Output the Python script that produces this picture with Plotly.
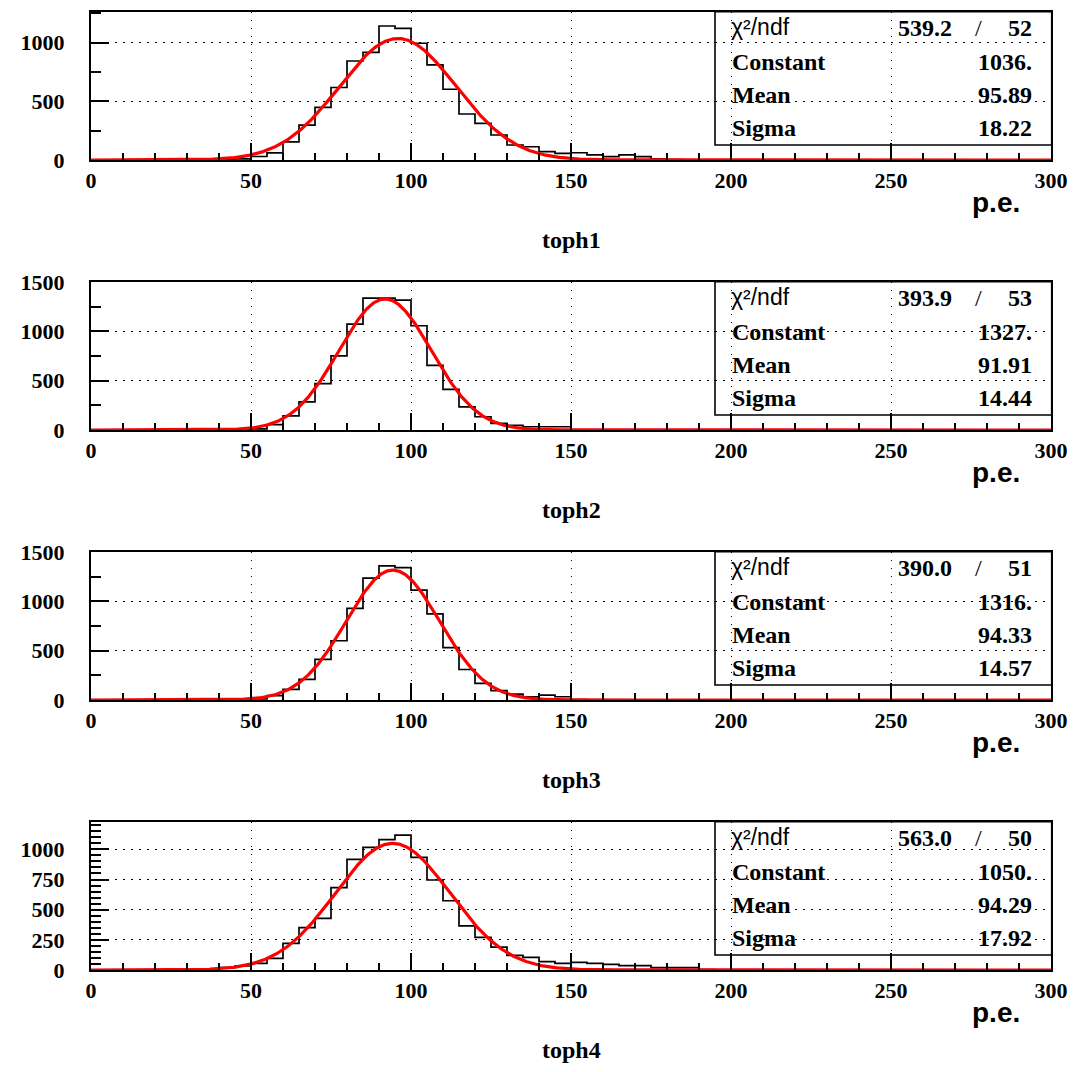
import numpy as np
import plotly.graph_objects as go

# page body has an 8px margin; size the figure so it fits inside the window
OFF = 8
W, H = 1065, 1056

# ---------------- data ----------------
bin_edges = list(range(0, 305, 5))  # 0..300, bin width 5

counts_toph1 = [0] * 8 + [3, 10, 30, 60, 155, 298, 449, 618, 844, 918,
                          1142, 1122, 995, 810, 603, 392, 313, 213, 128, 113,
                          71, 57, 62, 43, 28, 43, 28, 10, 4] + [0] * 23
counts_toph2 = [0] * 9 + [3, 12, 55, 144, 285, 470, 750, 1073, 1335, 1335,
                          1315, 1056, 654, 412, 235, 134, 67, 47, 33, 33,
                          33, 2, 2] + [0] * 28
counts_toph3 = [0] * 10 + [10, 45, 107, 208, 412, 600, 929, 1234, 1358, 1341,
                           1113, 872, 530, 309, 168, 94, 60, 33, 50, 33,
                           3] + [0] * 29
counts_toph4 = [0] * 6 + [5, 10, 20, 35, 55, 97, 221, 351, 428, 682,
                          917, 1016, 1080, 1118, 934, 746, 574, 365, 270, 190,
                          122, 105, 69, 55, 64, 55, 47, 36, 36, 19,
                          19, 19, 3] + [0] * 21

titles = ["toph1", "toph2", "toph3", "toph4"]
chi2_txt = ["539.2", "393.9", "390.0", "563.0"]
ndf_txt = ["52", "53", "51", "50"]
const_txt = ["1036.", "1327.", "1316.", "1050."]
mean_txt = ["95.89", "91.91", "94.33", "94.29"]
sigma_txt = ["18.22", "14.44", "14.57", "17.92"]
fit_const = [1036.0, 1327.0, 1316.0, 1050.0]
fit_mean = [95.89, 91.91, 94.33, 94.29]
fit_sigma = [18.22, 14.44, 14.57, 17.92]

x_ticks = [0, 50, 100, 150, 200, 250, 300]
y_top = [1264, 1502, 1502, 1229]
y_major = [500, 500, 500, 250]
y_minor = [250, 250, 250, 50]

all_counts = [counts_toph1, counts_toph2, counts_toph3, counts_toph4]

# ---------------- layout geometry (screen pixels) ----------------
X0, X1 = 91, 1051
PANEL_STEP = 270
TOP0, BOT0 = 11.7, 160.0


def px(x):
    return (x - OFF) / W


def py(y):
    return 1 - (y - OFF) / H


serif = "Liberation Serif"
sans = "Liberation Sans"

fig = go.Figure()
annotations = []
shapes = []
layout_axes = {}

for k in range(4):
    top = TOP0 + PANEL_STEP * k
    bot = BOT0 + PANEL_STEP * k
    xa = "x" if k == 0 else f"x{k+1}"
    ya = "y" if k == 0 else f"y{k+1}"
    xkey = "xaxis" if k == 0 else f"xaxis{k+1}"
    ykey = "yaxis" if k == 0 else f"yaxis{k+1}"

    counts = all_counts[k]
    hx = bin_edges
    hy = counts + [counts[-1]]
    fig.add_trace(go.Scatter(x=hx, y=hy, mode="lines", line_shape="hv",
                             line=dict(color="black", width=1.7),
                             xaxis=xa, yaxis=ya, showlegend=False, hoverinfo="skip"))

    fx = np.linspace(0, 300, 1201)
    fy = fit_const[k] * np.exp(-0.5 * ((fx - fit_mean[k]) / fit_sigma[k]) ** 2)
    fig.add_trace(go.Scatter(x=fx, y=fy, mode="lines",
                             line=dict(color="#ff0000", width=3.2),
                             xaxis=xa, yaxis=ya, showlegend=False, hoverinfo="skip"))

    layout_axes[xkey] = dict(
        domain=[px(X0), px(X1)], range=[0, 300], anchor=ya, automargin=False,
        tickvals=x_ticks, ticktext=[str(v) for v in x_ticks],
        ticks="inside", ticklen=17, tickwidth=1.6, tickcolor="black",
        minor=dict(dtick=10, tick0=0, ticks="inside", ticklen=7, tickwidth=1.6,
                   tickcolor="black", showgrid=False),
        showgrid=True, gridcolor="black", gridwidth=1.4, griddash="1.5px,6.5px",
        showline=True, linecolor="black", linewidth=2, mirror=True,
        zeroline=False, ticklabelstandoff=0,
        tickfont=dict(family=serif, size=22, color="black", weight="bold"),
        fixedrange=True,
    )
    layout_axes[ykey] = dict(
        domain=[py(bot), py(top)], range=[0, y_top[k]], anchor=xa, automargin=False,
        dtick=y_major[k], tick0=0,
        ticks="inside", ticklen=18, tickwidth=1.6, tickcolor="black",
        minor=dict(dtick=y_minor[k], tick0=0, ticks="inside", ticklen=10, tickwidth=1.6,
                   tickcolor="black", showgrid=False),
        showgrid=True, gridcolor="black", gridwidth=1.4, griddash="1.5px,6.5px",
        showline=True, linecolor="black", linewidth=2, mirror=True,
        zeroline=False, ticklabelstandoff=20,
        tickfont=dict(family=serif, size=22, color="black", weight="bold"),
        fixedrange=True,
    )

    # stats box
    bx0, bx1 = 715, 1051.7
    by0, by1 = top, top + 133.3
    shapes.append(dict(type="rect", xref="paper", yref="paper",
                       x0=px(bx0), x1=px(bx1), y0=py(by1), y1=py(by0),
                       line=dict(color="black", width=1.6), fillcolor="rgba(0,0,0,0)"))
    row_h = (by1 - by0) / 4
    rows_y = [by0 + row_h * (i + 0.5) for i in range(4)]

    def ann(text, x, y, xanchor, family=serif, size=24, weight="bold"):
        annotations.append(dict(text=text, x=px(x), y=py(y), xref="paper", yref="paper",
                                xanchor=xanchor, yanchor="middle", showarrow=False,
                                font=dict(family=family, size=size, color="black", weight=weight)))

    ann("χ²/ndf", 729, rows_y[0] - 1, "left", family=sans, size=23, weight="normal")
    ann(chi2_txt[k], 896, rows_y[0], "left")
    ann("/", 978, rows_y[0], "center", weight="normal")
    ann(ndf_txt[k], 1034, rows_y[0], "right")
    ann("Constant", 730, rows_y[1], "left")
    ann(const_txt[k], 1034, rows_y[1], "right")
    ann("Mean", 730, rows_y[2], "left")
    ann(mean_txt[k], 1034, rows_y[2], "right")
    ann("Sigma", 730, rows_y[3], "left")
    ann(sigma_txt[k], 1034, rows_y[3], "right")

    # axis title and histogram title
    ann("p.e.", 996, bot + 42, "center", family=sans, size=28, weight="bold")
    ann(titles[k], 571, bot + 80, "center", family=serif, size=24, weight="bold")

fig.update_layout(
    template="none",
    width=W, height=H,
    margin=dict(l=0, r=0, t=0, b=0, pad=0),
    paper_bgcolor="white", plot_bgcolor="white",
    showlegend=False,
    annotations=annotations, shapes=shapes,
    **layout_axes,
)

fig.write_html("out.html")
